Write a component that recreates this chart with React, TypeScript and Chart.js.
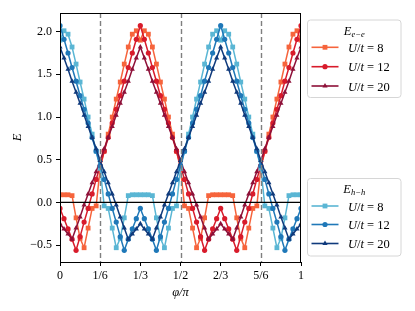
import React, { useEffect, useRef } from "react";
import { Chart, registerables } from "chart.js";

Chart.register(...registerables);

// phi / pi sampling grid (61 samples from 0 to 1)
const PHI = Array.from({ length: 61 }, (_, i) => i / 60);

// E_{e-e}
const EE_U8 = [
  0.09, 0.09, 0.09, 0.08, -0.18, -0.42, -0.53, -0.30, -0.07, -0.04, 0.40, 0.60, 0.80, 1.00, 1.21, 1.41, 1.62, 1.82, 1.97, 2.01, 1.90,
  2.01, 1.97, 1.82, 1.62, 1.41, 1.21, 1.00, 0.80, 0.60, 0.40, -0.04, -0.07, -0.30, -0.53, -0.42, -0.18, 0.08, 0.09, 0.09, 0.09,
  0.09, 0.09, 0.08, -0.18, -0.42, -0.53, -0.30, -0.07, -0.04, 0.40, 0.60, 0.80, 1.00, 1.21, 1.41, 1.62, 1.82, 1.97, 2.01, 1.90,
];
const EE_U12 = [
  -0.07, -0.19, -0.31, -0.43, -0.56, -0.40, -0.23, -0.07, 0.10, 0.27, 0.43, 0.60, 0.76, 0.93, 1.09, 1.25, 1.42, 1.58, 1.75, 1.91, 2.07,
  1.91, 1.75, 1.58, 1.42, 1.25, 1.09, 0.93, 0.76, 0.60, 0.43, 0.27, 0.10, -0.07, -0.23, -0.40, -0.56, -0.43, -0.31, -0.19, -0.07,
  -0.19, -0.31, -0.43, -0.56, -0.40, -0.23, -0.07, 0.10, 0.27, 0.43, 0.60, 0.76, 0.93, 1.09, 1.25, 1.42, 1.58, 1.75, 1.91, 2.07,
];
const EE_U20 = [
  -0.25, -0.31, -0.37, -0.43, -0.30, -0.17, -0.03, 0.10, 0.23, 0.36, 0.49, 0.63, 0.76, 0.89, 1.02, 1.16, 1.29, 1.42, 1.56, 1.69, 1.82,
  1.69, 1.56, 1.42, 1.29, 1.16, 1.02, 0.89, 0.76, 0.63, 0.49, 0.36, 0.23, 0.10, -0.03, -0.17, -0.30, -0.43, -0.37, -0.31, -0.25,
  -0.31, -0.37, -0.43, -0.30, -0.17, -0.03, 0.10, 0.23, 0.36, 0.49, 0.63, 0.76, 0.89, 1.02, 1.16, 1.29, 1.42, 1.56, 1.69, 1.82,
];

// E_{h-h}
const HH_U8 = [
  1.90, 2.01, 1.97, 1.82, 1.62, 1.41, 1.21, 1.00, 0.80, 0.60, 0.40, -0.04, -0.07, -0.30, -0.53, -0.42, -0.18, 0.08, 0.09, 0.09, 0.09,
  0.09, 0.09, 0.08, -0.18, -0.42, -0.53, -0.30, -0.07, -0.04, 0.40, 0.60, 0.80, 1.00, 1.21, 1.41, 1.62, 1.82, 1.97, 2.01, 1.90,
  2.01, 1.97, 1.82, 1.62, 1.41, 1.21, 1.00, 0.80, 0.60, 0.40, -0.04, -0.07, -0.30, -0.53, -0.42, -0.18, 0.08, 0.09, 0.09, 0.09,
];
const HH_U12 = [
  2.07, 1.91, 1.75, 1.58, 1.42, 1.25, 1.09, 0.93, 0.76, 0.60, 0.43, 0.27, 0.10, -0.07, -0.23, -0.40, -0.56, -0.43, -0.31, -0.19, -0.07,
  -0.19, -0.31, -0.43, -0.56, -0.40, -0.23, -0.07, 0.10, 0.27, 0.43, 0.60, 0.76, 0.93, 1.09, 1.25, 1.42, 1.58, 1.75, 1.91, 2.07,
  1.91, 1.75, 1.58, 1.42, 1.25, 1.09, 0.93, 0.76, 0.60, 0.43, 0.27, 0.10, -0.07, -0.23, -0.40, -0.56, -0.43, -0.31, -0.19, -0.07,
];
const HH_U20 = [
  1.82, 1.69, 1.56, 1.42, 1.29, 1.16, 1.02, 0.89, 0.76, 0.63, 0.49, 0.36, 0.23, 0.10, -0.03, -0.17, -0.30, -0.43, -0.37, -0.31, -0.25,
  -0.31, -0.37, -0.43, -0.30, -0.17, -0.03, 0.10, 0.23, 0.36, 0.49, 0.63, 0.76, 0.89, 1.02, 1.16, 1.29, 1.42, 1.56, 1.69, 1.82,
  1.69, 1.56, 1.42, 1.29, 1.16, 1.02, 0.89, 0.76, 0.63, 0.49, 0.36, 0.23, 0.10, -0.03, -0.17, -0.30, -0.43, -0.37, -0.31, -0.25,
];

const U_VALUES = ["8", "12", "20"];
const X_TICKS = [0, 1 / 6, 1 / 3, 1 / 2, 2 / 3, 5 / 6, 1];
const X_TICK_LABELS = ["0", "1/6", "1/3", "1/2", "2/3", "5/6", "1"];
const Y_TICKS = [-0.5, 0, 0.5, 1, 1.5, 2];
const Y_TICK_LABELS = ["\u22120.5", "0.0", "0.5", "1.0", "1.5", "2.0"];
const DASHED_X = [1 / 6, 1 / 2, 5 / 6];

const EE_COLORS = ["#f6643c", "#d81b2b", "#8e1038"];
const HH_COLORS = ["#5ab6d4", "#1f78b8", "#0f3a7c"];
const STYLES = ["rect", "circle", "triangle"];
const RADII = [3.4, 2.6, 3.0];

const SERIF = "'Liberation Serif', 'DejaVu Serif', serif";

function pts(ys: number[]) {
  return ys.map((y, i) => ({ x: PHI[i], y }));
}

function drawMarker(ctx: CanvasRenderingContext2D, style: string, x: number, y: number, r: number, color: string) {
  ctx.save();
  ctx.fillStyle = color;
  ctx.beginPath();
  if (style === "rect") {
    const s = Math.SQRT1_2 * r;
    ctx.rect(x - s, y - s, 2 * s, 2 * s);
  } else if (style === "circle") {
    ctx.arc(x, y, r, 0, Math.PI * 2);
  } else {
    const h = r * 1.5;
    ctx.moveTo(x, y - r);
    ctx.lineTo(x + r * 0.87, y + r * 0.5);
    ctx.lineTo(x - r * 0.87, y + r * 0.5);
    ctx.closePath();
    void h;
  }
  ctx.fill();
  ctx.restore();
}

function drawSegments(ctx: CanvasRenderingContext2D, x: number, y: number, segs: { t: string; it: boolean; size: number; dy?: number }[]) {
  let cx = x;
  for (const s of segs) {
    ctx.font = `${s.it ? "italic " : ""}${s.size}px ${SERIF}`;
    ctx.fillText(s.t, cx, y + (s.dy || 0));
    cx += ctx.measureText(s.t).width;
  }
  return cx - x;
}

function measureSegments(ctx: CanvasRenderingContext2D, segs: { t: string; it: boolean; size: number }[]) {
  let w = 0;
  for (const s of segs) {
    ctx.font = `${s.it ? "italic " : ""}${s.size}px ${SERIF}`;
    w += ctx.measureText(s.t).width;
  }
  return w;
}

function drawLegendBox(
  ctx: CanvasRenderingContext2D,
  top: number,
  bottom: number,
  sub: string,
  colors: string[],
  rowYs: number[],
  titleY: number
) {
  const left = 307.5;
  const right = 401;
  const r = 3;
  ctx.save();
  ctx.beginPath();
  ctx.moveTo(left + r, top);
  ctx.lineTo(right - r, top);
  ctx.quadraticCurveTo(right, top, right, top + r);
  ctx.lineTo(right, bottom - r);
  ctx.quadraticCurveTo(right, bottom, right - r, bottom);
  ctx.lineTo(left + r, bottom);
  ctx.quadraticCurveTo(left, bottom, left, bottom - r);
  ctx.lineTo(left, top + r);
  ctx.quadraticCurveTo(left, top, left + r, top);
  ctx.closePath();
  ctx.fillStyle = "rgba(255,255,255,0.85)";
  ctx.fill();
  ctx.strokeStyle = "#d6d6d6";
  ctx.lineWidth = 1;
  ctx.stroke();

  ctx.fillStyle = "#000";
  ctx.textBaseline = "alphabetic";
  ctx.textAlign = "left";
  const titleSegs = [
    { t: "E", it: true, size: 12.5 },
    { t: sub, it: true, size: 8.5, dy: 2.5 },
  ];
  const tw = measureSegments(ctx, titleSegs);
  drawSegments(ctx, (left + right) / 2 - tw / 2, titleY + 4, titleSegs);

  for (let i = 0; i < 3; i++) {
    const y = rowYs[i];
    ctx.strokeStyle = colors[i];
    ctx.lineWidth = 1.6;
    ctx.beginPath();
    ctx.moveTo(311.5, y);
    ctx.lineTo(338.5, y);
    ctx.stroke();
    drawMarker(ctx, STYLES[i], 325, y, RADII[i], colors[i]);
    ctx.fillStyle = "#000";
    drawSegments(ctx, 348, y + 4.5, [
      { t: "U", it: true, size: 12.5 },
      { t: "/", it: false, size: 12.5 },
      { t: "t", it: true, size: 12.5 },
      { t: " = " + U_VALUES[i], it: false, size: 12.5 },
    ]);
  }
  ctx.restore();
}

const overlayPlugin = {
  id: "overlay",
  afterDatasetsDraw(chart: any) {
    const { ctx, chartArea, scales } = chart;
    const xs = scales.x;
    const ys = scales.y;
    ctx.save();
    ctx.beginPath();
    ctx.rect(chartArea.left, chartArea.top, chartArea.right - chartArea.left, chartArea.bottom - chartArea.top);
    ctx.clip();
    // dashed verticals
    ctx.strokeStyle = "#7f7f7f";
    ctx.lineWidth = 1.4;
    ctx.setLineDash([5, 3]);
    for (const v of DASHED_X) {
      const px = Math.round(xs.getPixelForValue(v)) + 0.5;
      ctx.beginPath();
      ctx.moveTo(px, chartArea.top);
      ctx.lineTo(px, chartArea.bottom);
      ctx.stroke();
    }
    ctx.setLineDash([]);
    // zero line
    const py = ys.getPixelForValue(0);
    ctx.strokeStyle = "#000";
    ctx.lineWidth = 1.3;
    ctx.beginPath();
    ctx.moveTo(chartArea.left, py);
    ctx.lineTo(chartArea.right, py);
    ctx.stroke();
    ctx.restore();

    // frame
    ctx.save();
    ctx.strokeStyle = "#000";
    ctx.lineWidth = 1;
    ctx.strokeRect(chartArea.left + 0.5, chartArea.top + 0.5, chartArea.right - chartArea.left - 1, chartArea.bottom - chartArea.top);
    ctx.restore();
  },
  afterDraw(chart: any) {
    const ctx = chart.ctx;
    drawLegendBox(ctx, 20, 97.5, "e\u2212e", EE_COLORS, [47.3, 66.7, 86], 30.5);
    drawLegendBox(ctx, 178.5, 256, "h\u2212h", HH_COLORS, [206, 224.5, 243.5], 188.5);
  },
};

export default function App() {
  const ref = useRef<HTMLCanvasElement | null>(null);
  useEffect(() => {
    if (!ref.current) return;
    const mk = (label: string, ys: number[], color: string, idx: number) => ({
      label,
      data: pts(ys),
      borderColor: color,
      backgroundColor: color,
      borderWidth: 1.5,
      pointStyle: STYLES[idx],
      pointRadius: RADII[idx],
      pointBorderWidth: 0,
      pointBackgroundColor: color,
      showLine: true,
      tension: 0,
      fill: false,
    });
    const chart = new Chart(ref.current, {
      type: "line",
      data: {
        datasets: [
          mk("E_hh U/t=20", HH_U20, HH_COLORS[2], 2),
          mk("E_hh U/t=12", HH_U12, HH_COLORS[1], 1),
          mk("E_hh U/t=8", HH_U8, HH_COLORS[0], 0),
          mk("E_ee U/t=20", EE_U20, EE_COLORS[2], 2),
          mk("E_ee U/t=12", EE_U12, EE_COLORS[1], 1),
          mk("E_ee U/t=8", EE_U8, EE_COLORS[0], 0),
        ] as any,
      },
      options: {
        responsive: false,
        animation: false,
        devicePixelRatio: 1,
        layout: { padding: { left: 0, right: 114, top: 13, bottom: 0 } },
        plugins: { legend: { display: false }, tooltip: { enabled: false } },
        scales: {
          x: {
            type: "linear",
            min: 0,
            max: 1,
            afterBuildTicks: (s: any) => {
              s.ticks = X_TICKS.map((v) => ({ value: v }));
            },
            afterFit: (s: any) => {
              s.height = 49;
            },
            ticks: {
              autoSkip: false,
              maxRotation: 0,
              padding: 3,
              color: "#000",
              font: { family: SERIF, size: 12 },
              callback: (_v: any, i: number) => X_TICK_LABELS[i],
            },
            grid: { display: true, drawOnChartArea: false, drawTicks: true, tickLength: 4, color: "#000" },
            border: { display: true, color: "#000" },
            title: {
              display: true,
              text: "\u03c6/\u03c0",
              color: "#000",
              font: { family: SERIF, size: 12.5, style: "italic" },
              padding: { top: 0, bottom: 11 },
            },
          },
          y: {
            type: "linear",
            min: -0.697,
            max: 2.218,
            afterBuildTicks: (s: any) => {
              s.ticks = Y_TICKS.map((v) => ({ value: v }));
            },
            afterFit: (s: any) => {
              s.width = 60;
            },
            ticks: {
              autoSkip: false,
              padding: 4,
              color: "#000",
              font: { family: SERIF, size: 12 },
              callback: (_v: any, i: number) => Y_TICK_LABELS[i],
            },
            grid: { display: true, drawOnChartArea: false, drawTicks: true, tickLength: 4, color: "#000" },
            border: { display: true, color: "#000" },
            title: {
              display: true,
              text: "E",
              color: "#000",
              font: { family: SERIF, size: 12.5, style: "italic" },
              padding: { top: 10, bottom: 0 },
            },
          },
        },
      },
      plugins: [overlayPlugin],
    } as any);
    return () => chart.destroy();
  }, []);
  return (
    <div style={{ position: "fixed", left: 0, top: 0, width: 415, height: 311, background: "#fff" }}>
      <canvas ref={ref} width={415} height={311} style={{ display: "block", width: 415, height: 311 }} />
    </div>
  );
}
